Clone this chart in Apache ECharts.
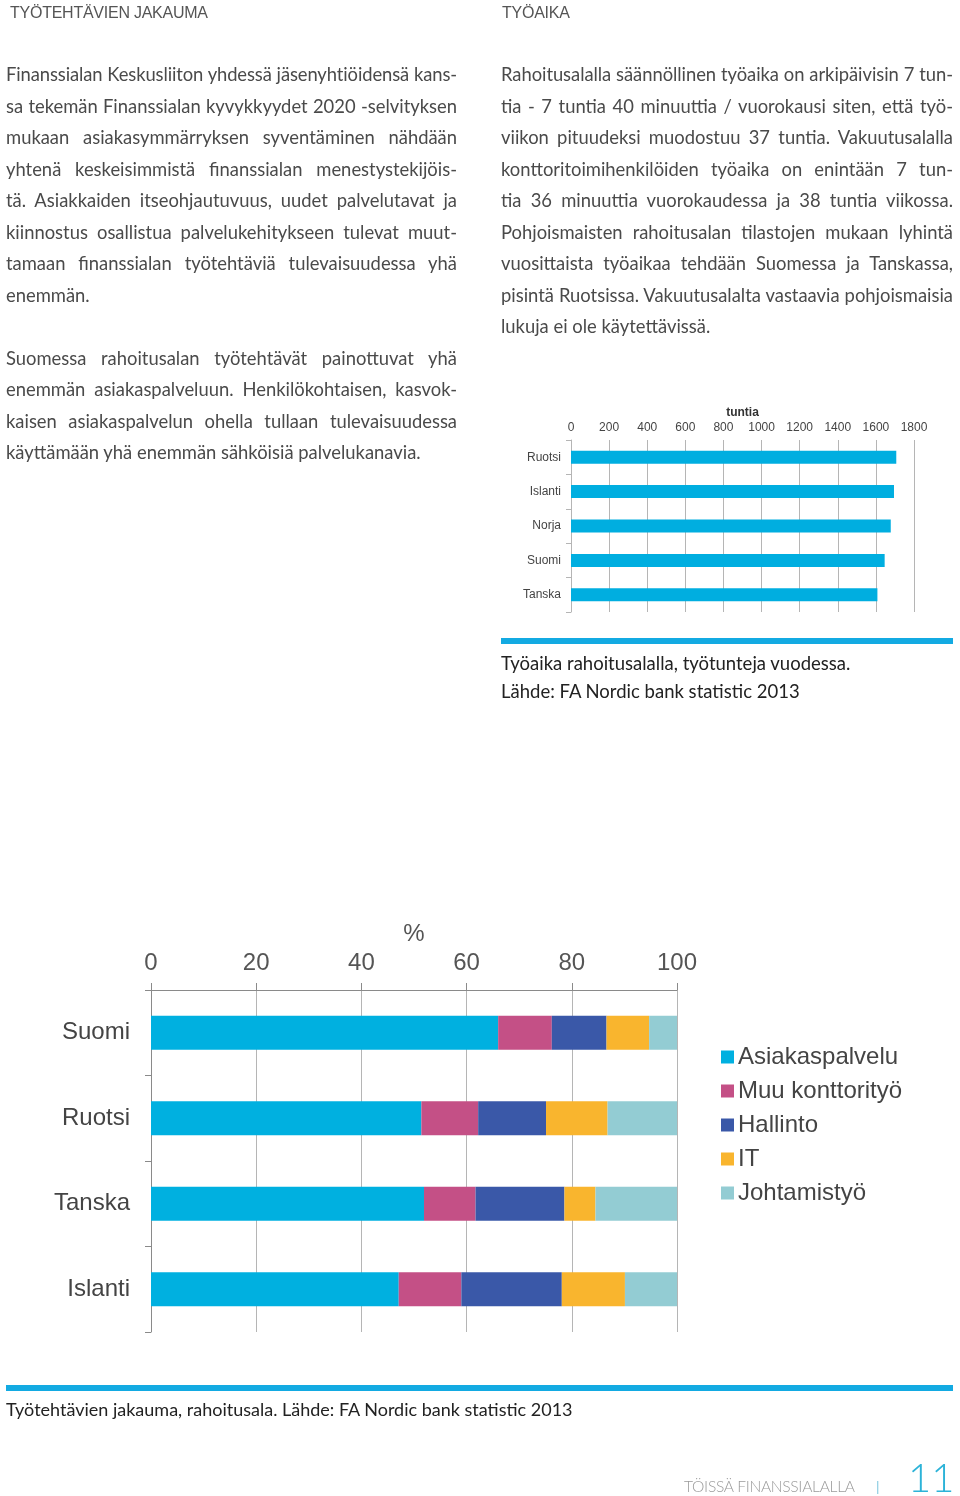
<!DOCTYPE html>
<html>
<head>
<meta charset="utf-8">
<script src="https://cdn.jsdelivr.net/npm/echarts@6/dist/echarts.min.js"></script>
<style>
  html, body { margin: 0; padding: 0; background: #fff; }
  #page { position: relative; width: 960px; height: 1496px; overflow: hidden; }
  #chart { position: absolute; left: 0; top: 0; width: 960px; height: 1496px; }
  .txt { position: absolute; font-family: Lato, "Open Sans", sans-serif; color: #4a4a4a; }
  .head { position: absolute; font-family: "Liberation Sans", Arial, sans-serif; font-size: 16px; color: #555; top: 4px; letter-spacing: -0.25px; }
  .para { width: 451px; font-size: 18.4px; line-height: 31.5px; }
  .para div { white-space: nowrap; text-align: justify; text-align-last: justify; height: 31.5px; }
  .para div.last { text-align-last: left; }
  .bar { position: absolute; background: #13aae2; height: 6px; }
  .cap { position: absolute; font-family: Lato, "Open Sans", sans-serif; line-height: 28px; color: #222; }
</style>
</head>
<body>
<div id="page">
  <div id="chart"></div>

  <div class="head" style="left:10px;">TYÖTEHTÄVIEN JAKAUMA</div>
  <div class="head" style="left:502px;">TYÖAIKA</div>

  <div class="txt para" style="left:6px; top:59px;">
    <div>Finanssialan Keskusliiton yhdessä jäsenyhtiöidensä kans-</div>
    <div>sa tekemän Finanssialan kyvykkyydet 2020 -selvityksen</div>
    <div>mukaan asiakasymmärryksen syventäminen nähdään</div>
    <div>yhtenä keskeisimmistä finanssialan menestystekijöis-</div>
    <div>tä. Asiakkaiden itseohjautuvuus, uudet palvelutavat ja</div>
    <div>kiinnostus osallistua palvelukehitykseen tulevat muut-</div>
    <div>tamaan finanssialan työtehtäviä tulevaisuudessa yhä</div>
    <div class="last">enemmän.</div>
    <div class="last"></div>
    <div>Suomessa rahoitusalan työtehtävät painottuvat yhä</div>
    <div>enemmän asiakaspalveluun. Henkilökohtaisen, kasvok-</div>
    <div>kaisen asiakaspalvelun ohella tullaan tulevaisuudessa</div>
    <div class="last">käyttämään yhä enemmän sähköisiä palvelukanavia.</div>
  </div>

  <div class="txt para" style="left:501px; top:59px; width:452px;">
    <div>Rahoitusalalla säännöllinen työaika on arkipäivisin 7 tun-</div>
    <div>tia - 7 tuntia 40 minuuttia / vuorokausi siten, että työ-</div>
    <div>viikon pituudeksi muodostuu 37 tuntia. Vakuutusalalla</div>
    <div>konttoritoimihenkilöiden työaika on enintään 7 tun-</div>
    <div>tia 36 minuuttia vuorokaudessa ja 38 tuntia viikossa.</div>
    <div>Pohjoismaisten rahoitusalan tilastojen mukaan lyhintä</div>
    <div>vuosittaista työaikaa tehdään Suomessa ja Tanskassa,</div>
    <div>pisintä Ruotsissa. Vakuutusalalta vastaavia pohjoismaisia</div>
    <div class="last">lukuja ei ole käytettävissä.</div>
  </div>

  <div class="bar" style="left:501px; top:638px; width:452px;"></div>
  <div class="cap" style="left:501px; top:649px; font-size:18.5px;">Työaika rahoitusalalla, työtunteja vuodessa.<br>Lähde: FA Nordic bank statistic 2013</div>

  <div class="bar" style="left:6px; top:1385px; width:947px;"></div>
  <div class="cap" style="left:6px; top:1395px; font-size:18px;">Työtehtävien jakauma, rahoitusala. Lähde: FA Nordic bank statistic 2013</div>

  <div class="txt" style="left:684px; top:1477px; font-size:15.6px; color:#9a9a9a; letter-spacing:-0.3px; font-weight:300;">TÖISSÄ FINANSSIALALLA</div>
  <div class="txt" style="left:876px; top:1478px; font-size:14px; color:#7cc6df;">|</div>
  <div class="txt" style="left:908px; top:1455px; font-size:40px; color:#2cb3d8; font-weight:300; line-height:44px;">11</div>
</div>

<script>
// Shrink any over-long justified line so that it fits its column
document.querySelectorAll('.para div').forEach(function (d) {
  var w = d.parentElement.clientWidth;
  var ls = 0;
  while (d.scrollWidth > w && ls > -1.5) { ls -= 0.05; d.style.letterSpacing = ls + 'px'; }
});

// ---- Data ----
const hoursCountries = ['Ruotsi', 'Islanti', 'Norja', 'Suomi', 'Tanska'];
const hoursValues = [1707, 1695, 1678, 1646, 1608];
const hoursTicks = [0, 200, 400, 600, 800, 1000, 1200, 1400, 1600, 1800];

const taskCountries = ['Suomi', 'Ruotsi', 'Tanska', 'Islanti'];
const taskNames = ['Asiakaspalvelu', 'Muu konttorityö', 'Hallinto', 'IT', 'Johtamistyö'];
const asiakaspalvelu = [66, 51.4, 51.9, 47.1];
const muuKonttorityo = [10.2, 10.8, 9.8, 11.9];
const hallinto = [10.4, 12.9, 16.9, 19.1];
const itWork = [8.1, 11.7, 5.9, 12.0];
const johtamistyo = [5.3, 13.2, 15.5, 9.9];
const percentTicks = [0, 20, 40, 60, 80, 100];

const taskColors = ['#00b0e0', '#c45086', '#3a58a8', '#f9b52e', '#93ccd3'];
const taskData = [asiakaspalvelu, muuKonttorityo, hallinto, itWork, johtamistyo];

const chart = echarts.init(document.getElementById('chart'), null, { renderer: 'canvas' });
const FONT = '"Liberation Sans", Arial, sans-serif';

const option = {
  animation: false,
  textStyle: { fontFamily: FONT },
  grid: [
    { left: 571, top: 440, width: 343, height: 172 },
    { left: 151, top: 990, width: 526, height: 342 }
  ],
  xAxis: [
    {
      gridIndex: 0, type: 'value', position: 'top',
      min: hoursTicks[0], max: hoursTicks[hoursTicks.length - 1], interval: 200,
      name: 'tuntia', nameLocation: 'middle', nameGap: 21,
      nameTextStyle: { fontSize: 12, fontWeight: 'bold', color: '#333', fontFamily: FONT },
      axisLine: { show: false },
      axisTick: { show: false },
      axisLabel: { fontSize: 12, color: '#444', margin: 6, fontFamily: FONT, formatter: function (v) { return String(v); } },
      splitLine: { show: true, lineStyle: { color: '#b5b5b5', width: 1 } }
    },
    {
      gridIndex: 1, type: 'value', position: 'top',
      min: percentTicks[0], max: percentTicks[percentTicks.length - 1], interval: 20,
      name: '%', nameLocation: 'middle', nameGap: 44,
      nameTextStyle: { fontSize: 24, color: '#555', fontFamily: FONT },
      axisLine: { show: true, lineStyle: { color: '#8a8a8a', width: 1 } },
      axisTick: { show: true, length: 7, lineStyle: { color: '#8a8a8a' } },
      axisLabel: { fontSize: 24, color: '#555', margin: 15, fontFamily: FONT },
      splitLine: { show: true, lineStyle: { color: '#b5b5b5', width: 1 } }
    }
  ],
  yAxis: [
    {
      gridIndex: 0, type: 'category', data: hoursCountries, inverse: true,
      axisLine: { show: true, lineStyle: { color: '#b5b5b5' } },
      axisTick: { show: true, length: 5, lineStyle: { color: '#b5b5b5' } },
      axisLabel: { fontSize: 12, color: '#444', margin: 10, fontFamily: FONT }
    },
    {
      gridIndex: 1, type: 'category', data: taskCountries, inverse: true,
      axisLine: { show: true, lineStyle: { color: '#8a8a8a' } },
      axisTick: { show: true, length: 6, lineStyle: { color: '#8a8a8a' } },
      axisLabel: { fontSize: 24, color: '#444', margin: 21, fontFamily: FONT }
    }
  ],
  legend: {
    data: taskNames,
    orient: 'vertical',
    left: 716, top: 1040,
    icon: 'rect', itemWidth: 13, itemHeight: 13, itemGap: 10,
    textStyle: { fontSize: 24, color: '#444', fontFamily: FONT, padding: [0, 0, 0, -1] }
  },
  series: [
    {
      name: 'Työtunnit', type: 'bar', xAxisIndex: 0, yAxisIndex: 0,
      data: hoursValues, barWidth: 13,
      itemStyle: { color: '#00aee0' }
    }
  ].concat(taskNames.map((n, i) => ({
    name: n, type: 'bar', stack: 'tasks', xAxisIndex: 1, yAxisIndex: 1,
    data: taskData[i], barWidth: 34,
    itemStyle: { color: taskColors[i] }
  })))
};
chart.setOption(option);
</script>
</body>
</html>
